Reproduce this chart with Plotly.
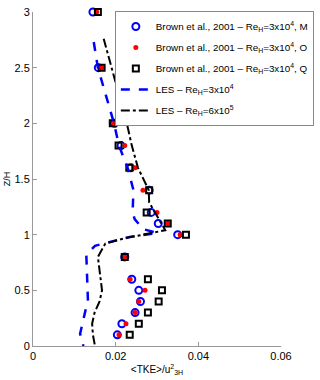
import plotly.graph_objects as go

# Brown et al. 2001 measurements (Z/H vs <TKE>/u^2_3H)
z_exp = [3.0, 2.5, 2.0, 1.8, 1.6, 1.4, 1.2, 1.1, 1.0, 0.8, 0.6, 0.5, 0.4, 0.3, 0.2, 0.1]
tke_M = [0.0145, 0.0158, 0.0197, 0.0213, 0.0236, 0.0281, 0.0286, 0.0303, 0.0350, 0.0222, 0.0239, 0.0256, 0.0260, 0.0247, 0.0215, 0.0204]
tke_O = [0.0154, 0.0166, 0.0195, 0.0222, 0.0247, 0.0266, 0.0300, 0.0326, 0.0356, 0.0222, 0.0235, 0.0271, 0.0256, 0.0247, 0.0225, 0.0208]
tke_Q = [0.0157, 0.0166, 0.0193, 0.0207, 0.0233, 0.0281, 0.0275, 0.0326, 0.0370, 0.0222, 0.0278, 0.0312, 0.0304, 0.0278, 0.0256, 0.0234]

# LES profiles
z_les1 = [2.73, 2.5, 2.0, 1.8, 1.6, 1.4, 1.2, 1.14, 1.05, 1.015, 0.98, 0.9, 0.82, 0.6, 0.4, 0.32, 0.11, 0.0]
tke_les1 = [0.0147, 0.0157, 0.0196, 0.0208, 0.0229, 0.0243, 0.0241, 0.0246, 0.0266, 0.0301, 0.0234, 0.0150, 0.0129, 0.0132, 0.0133, 0.0127, 0.0114, 0.0122]
z_les2 = [2.76, 2.0, 1.8, 1.6, 1.4, 1.29, 1.11, 1.04, 0.965, 0.92, 0.8, 0.6, 0.5, 0.4, 0.3, 0.2, 0.1, 0.0]
tke_les2 = [0.0171, 0.0227, 0.0239, 0.0254, 0.0280, 0.0281, 0.0309, 0.0320, 0.0219, 0.0175, 0.0157, 0.0164, 0.0167, 0.0161, 0.0149, 0.0143, 0.0145, 0.0150]

xticks = [0, 0.02, 0.04, 0.06]
xlabels = ["0", "0.02", "0.04", "0.06"]
yticks = [0, 0.5, 1, 1.5, 2, 2.5, 3]
ylabels = ["0", "0.5", "1", "1.5", "2", "2.5", "3"]

lab_exp = "Brown et al., 2001 \u2013 Re<sub>H</sub>=3x10<sup>4</sup>, "

fig = go.Figure()
fig.add_trace(go.Scatter(
    x=tke_M, y=z_exp, mode="markers", name=lab_exp + "M", legendgroup="a", cliponaxis=False,
    marker=dict(symbol="circle-open", size=7, color="#0000ff", line=dict(width=2)),
))
fig.add_trace(go.Scatter(
    x=tke_O, y=z_exp, mode="markers", name=lab_exp + "O", legendgroup="b", cliponaxis=False,
    marker=dict(symbol="circle", size=5, color="#ff0000"),
))
fig.add_trace(go.Scatter(
    x=tke_Q, y=z_exp, mode="markers", name=lab_exp + "Q", legendgroup="c", cliponaxis=False,
    marker=dict(symbol="square-open", size=6, color="black", line=dict(width=2)),
))
fig.add_trace(go.Scatter(
    x=tke_les1, y=z_les1, mode="lines", name="LES \u2013 Re<sub>H</sub>=3x10<sup>4</sup>", legendgroup="d",
    line=dict(color="#0000ff", width=2.5, dash="dash"),
))
fig.add_trace(go.Scatter(
    x=tke_les2, y=z_les2, mode="lines", name="LES \u2013 Re<sub>H</sub>=6x10<sup>5</sup>", legendgroup="e",
    line=dict(color="black", width=2, dash="dashdot"),
))

fig.update_layout(
    width=320, height=380,
    margin=dict(l=33, r=31, t=6, b=34),
    plot_bgcolor="white", paper_bgcolor="white",
    font=dict(family="Liberation Sans, Arial", size=11, color="black"),
    showlegend=True,
    legend=dict(
        x=0.33, y=1.003, xanchor="left", yanchor="top",
        bgcolor="white", bordercolor="#888888", borderwidth=1,
        font=dict(size=9.8), itemwidth=30, tracegroupgap=2,
    ),
)
fig.update_xaxes(
    range=[0, 0.06], tickvals=xticks, ticktext=xlabels,
    showgrid=False, zeroline=False, showline=True, linecolor="#999999",
    ticks="inside", ticklen=4, tickcolor="#999999",
    title=dict(text="&lt;TKE&gt;/u<sup>2</sup><sub>3H</sub>", font=dict(size=10), standoff=4),
)
fig.update_yaxes(
    range=[0, 3], tickvals=yticks, ticktext=ylabels,
    showgrid=False, zeroline=False, showline=True, linecolor="#999999",
    ticks="inside", ticklen=4, tickcolor="#999999",
    title=dict(text="Z/H", font=dict(size=9), standoff=2),
)

fig.write_html(
    "out.html",
    config={"displayModeBar": False},
    post_script="document.body.style.margin='0';document.body.style.overflow='hidden';",
)
